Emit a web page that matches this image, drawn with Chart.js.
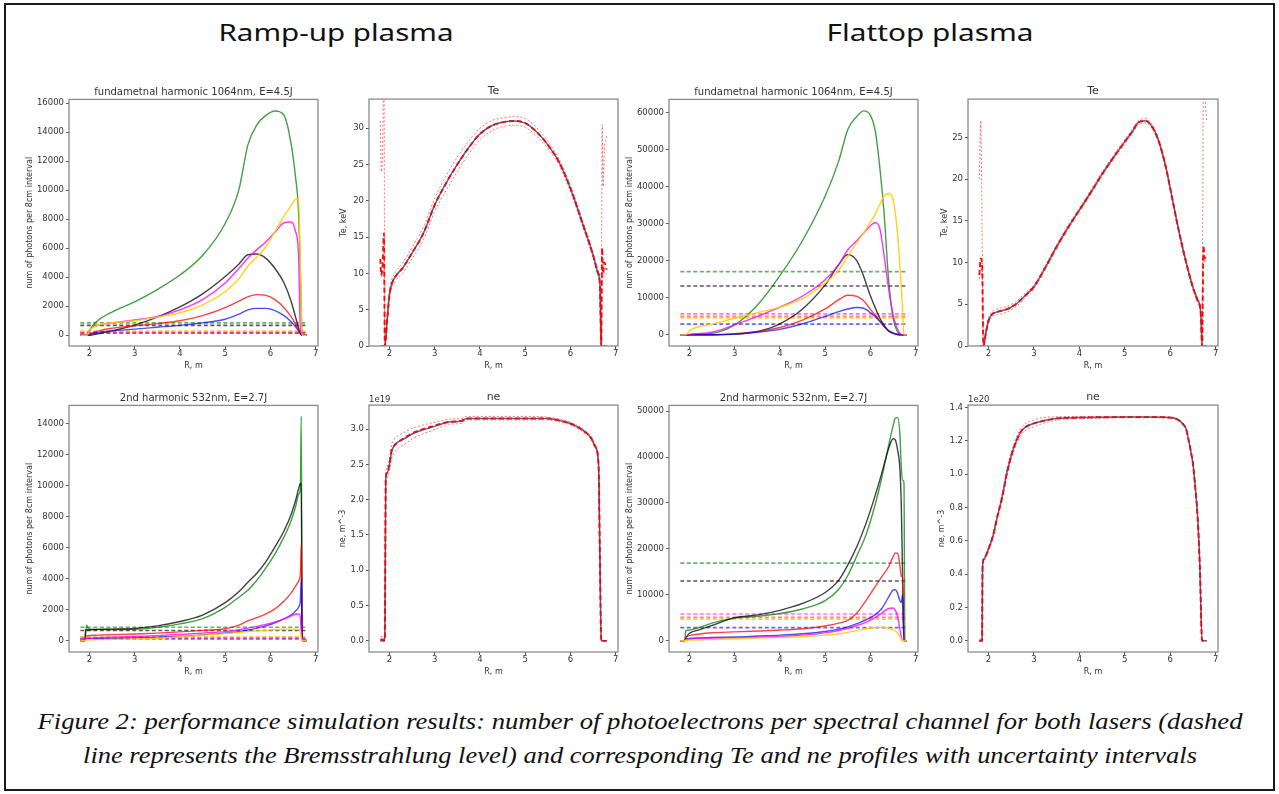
<!DOCTYPE html>
<html lang="en">
<head>
<meta charset="utf-8">
<title>Figure 2: performance simulation results</title>
<script src="https://cdn.jsdelivr.net/npm/chart.js@4.4.1/dist/chart.umd.min.js"></script>
<style>
    html, body { margin: 0; padding: 0; background: #fff; }
    #page { position: relative; width: 1279px; height: 794px; overflow: hidden; background: #fff; }
    #border { position: absolute; left: 4px; top: 3px; width: 1271px; height: 788px; border: 2px solid #1a1a1a; box-sizing: border-box; }
    .heading { position: absolute; top: 21px; font-family: "Noto Sans", "Open Sans", sans-serif; font-size: 23px; line-height: 23px; color: #111; white-space: nowrap; transform-origin: center; }
    .caption { position: absolute; font-family: "Liberation Serif", "Times New Roman", Times, serif; font-style: italic; font-size: 24px; line-height: 24px; color: #111; white-space: nowrap; transform-origin: center; }
    canvas { position: absolute; }
</style>
</head>
<body>
<div id="page">
    <div id="border"></div>
    <span class="heading" id="head-ramp">Ramp-up plasma</span>
    <span class="heading" id="head-flat">Flattop plasma</span>
    <span class="caption" id="cap-1" style="top: 709px;">Figure 2: performance simulation results: number of photoelectrons per spectral channel for both lasers (dashed</span>
    <span class="caption" id="cap-2" style="top: 743px;">line represents the Bremsstrahlung level) and corresponding Te and ne profiles with uncertainty intervals</span>
</div>
<script>
// ---- shared ticks ----
const rTicks = [2, 3, 4, 5, 6, 7];
const rampFundTicks = [0, 2000, 4000, 6000, 8000, 10000, 12000, 14000, 16000];
const rampSecTicks = [0, 2000, 4000, 6000, 8000, 10000, 12000, 14000];
const flatFundTicks = [0, 10000, 20000, 30000, 40000, 50000, 60000];
const flatSecTicks = [0, 10000, 20000, 30000, 40000, 50000];
const teRampTicks = [0, 5, 10, 15, 20, 25, 30];
const teFlatTicks = [0, 5, 10, 15, 20, 25];
const neRampTicks = [0, 0.5, 1.0, 1.5, 2.0, 2.5, 3.0];
const neFlatTicks = [0, 0.2, 0.4, 0.6, 0.8, 1.0, 1.2, 1.4];

// ---- ramp-up, fundamental harmonic 1064nm ----
const rampFundR       = [1.8, 1.95, 2.0, 2.05, 2.2, 2.5, 3.0, 3.5, 4.0, 4.5, 5.0, 5.3, 5.5, 5.7, 5.9, 6.1, 6.3, 6.45, 6.55, 6.62, 6.66, 6.7, 6.8];
const rampFundGreen   = [0, 0, 300, 580, 1050, 1600, 2300, 3150, 4150, 5500, 7700, 10000, 13100, 14500, 15150, 15450, 15150, 13300, 11000, 8500, 4500, 0, 0];
const rampFundGold    = [0, 0, 300, 480, 700, 850, 1000, 1250, 1550, 2100, 3000, 3900, 4750, 5400, 6100, 7150, 8200, 8900, 9350, 9400, 5000, 0, 0];
const rampFundMagenta = [0, 0, 300, 500, 700, 850, 1050, 1300, 1750, 2450, 3600, 4600, 5300, 5900, 6450, 7100, 7750, 7800, 7200, 5500, 500, 0, 0];
const rampFundBlack   = [0, 0, 0, 20, 100, 300, 700, 1250, 1950, 2850, 4050, 4900, 5550, 5600, 5300, 4600, 3600, 2400, 1300, 500, 150, 0, 0];
const rampFundRed     = [0, 0, 50, 150, 300, 480, 650, 800, 1000, 1350, 1900, 2350, 2650, 2800, 2750, 2450, 1900, 1300, 800, 400, 150, 0, 0];
const rampFundBlue    = [0, 0, 30, 100, 200, 300, 420, 550, 680, 850, 1100, 1450, 1750, 1850, 1850, 1700, 1350, 950, 600, 300, 100, 0, 0];
// bremsstrahlung levels: green, black, gold, red, magenta, blue
const rampFundBrem    = [850, 680, 280, 220, 180, 140];

// ---- ramp-up, 2nd harmonic 532nm ----
const rampSecR       = [1.8, 1.9, 1.92, 1.94, 1.97, 2.0, 2.2, 2.5, 3.0, 3.5, 4.0, 4.5, 5.0, 5.3, 5.5, 5.7, 5.9, 6.1, 6.3, 6.45, 6.55, 6.63, 6.66, 6.68, 6.7, 6.72, 6.8];
const rampSecGreen   = [0, 0, 600, 1000, 800, 740, 720, 710, 720, 850, 1080, 1420, 2150, 2800, 3250, 3900, 4700, 5600, 6700, 7700, 8600, 9500, 9800, 14500, 0, 0, 0];
const rampSecBlack   = [0, 0, 650, 700, 690, 700, 720, 740, 780, 950, 1230, 1650, 2450, 3150, 3770, 4350, 5100, 6050, 7100, 8100, 9000, 9900, 10150, 10150, 0, 0, 0];
const rampSecRed     = [0, 0, 250, 300, 320, 330, 350, 380, 420, 480, 560, 660, 760, 1000, 1270, 1480, 1720, 2050, 2550, 3050, 3500, 3900, 4300, 6200, 0, 0, 0];
const rampSecBlue    = [0, 0, 80, 100, 100, 110, 120, 140, 170, 220, 280, 370, 480, 580, 680, 800, 950, 1150, 1400, 1650, 1900, 2200, 2600, 4000, 0, 0, 0];
const rampSecMagenta = [0, 0, 100, 130, 150, 160, 180, 210, 260, 320, 400, 480, 580, 700, 800, 920, 1050, 1200, 1400, 1580, 1700, 1720, 1500, 400, 0, 0, 0];
const rampSecGold    = [0, 0, 30, 40, 50, 50, 60, 80, 110, 150, 250, 350, 450, 530, 580, 620, 660, 700, 730, 740, 730, 700, 600, 200, 0, 0, 0];
const rampSecBrem    = [860, 650, 230, 200, 150, 110];

// ---- flattop, fundamental harmonic 1064nm ----
const flatFundR       = [1.8, 1.9, 1.95, 2.0, 2.05, 2.5, 3.0, 3.5, 4.0, 4.5, 5.0, 5.3, 5.5, 5.7, 5.85, 6.0, 6.1, 6.2, 6.3, 6.4, 6.5, 6.6, 6.7, 6.74, 6.8];
const flatFundGreen   = [0, 0, 0, 50, 100, 400, 2700, 8000, 16000, 25500, 37500, 47000, 55500, 59000, 60500, 59300, 55500, 46000, 33000, 15000, 4500, 800, 0, 0, 0];
const flatFundGold    = [0, 0, 300, 1000, 1500, 2900, 4500, 6000, 7500, 9800, 14000, 17500, 21200, 25000, 27500, 30500, 32500, 35000, 37500, 38200, 36500, 27000, 9000, 0, 0];
const flatFundMagenta = [0, 0, 50, 150, 250, 700, 2700, 5000, 7500, 10500, 14900, 19000, 23000, 25500, 27500, 29500, 30300, 29000, 21500, 12500, 5500, 1500, 0, 0, 0];
const flatFundBlack   = [0, 0, 0, 0, 0, 30, 200, 900, 3000, 7000, 13500, 19000, 21700, 20000, 15800, 10500, 7500, 4700, 2600, 1100, 450, 100, 0, 0, 0];
const flatFundRed     = [0, 0, 0, 0, 0, 50, 300, 900, 2000, 4000, 7000, 9500, 10700, 10400, 9200, 6900, 5400, 3800, 2300, 1100, 500, 100, 0, 0, 0];
const flatFundBlue    = [0, 0, 0, 0, 0, 50, 200, 700, 1500, 3000, 5000, 6300, 7000, 7400, 7200, 6000, 5000, 3800, 2300, 1100, 500, 100, 0, 0, 0];
const flatFundBrem    = [17100, 13200, 4600, 5000, 5700, 2900];

// ---- flattop, 2nd harmonic 532nm ----
const flatSecR       = [1.8, 1.9, 1.92, 1.95, 2.0, 2.2, 2.5, 3.0, 3.5, 4.0, 4.5, 5.0, 5.3, 5.5, 5.7, 5.9, 6.1, 6.25, 6.4, 6.5, 6.55, 6.6, 6.65, 6.68, 6.71, 6.74, 6.76, 6.8];
const flatSecGreen   = [0, 0, 2200, 2250, 2300, 2800, 3800, 4900, 5300, 5900, 6900, 8700, 11200, 14200, 18500, 23000, 29500, 35500, 42500, 46800, 48500, 48600, 45000, 38000, 35000, 34500, 0, 0];
const flatSecBlack   = [0, 0, 400, 1000, 1600, 2300, 3300, 5000, 5600, 6600, 8100, 10500, 13200, 16500, 20500, 25500, 31500, 36500, 41800, 44000, 43700, 41500, 37500, 30000, 14000, 0, 0, 0];
const flatSecRed     = [0, 0, 600, 900, 1100, 1400, 1700, 1900, 2100, 2300, 2600, 3200, 3800, 4400, 6000, 8700, 11700, 13900, 16100, 18300, 19100, 19000, 16500, 14000, 14200, 0, 0, 0];
const flatSecBlue    = [0, 0, 300, 400, 500, 600, 700, 800, 1000, 1200, 1500, 2000, 2500, 3000, 3700, 4500, 5600, 7000, 9500, 11000, 11100, 10300, 8700, 8300, 10000, 0, 0, 0];
const flatSecMagenta = [0, 0, 200, 250, 300, 400, 500, 600, 750, 900, 1200, 1700, 2200, 2700, 3300, 4000, 5000, 6000, 7000, 7100, 6600, 5200, 2500, 800, 0, 0, 0, 0];
const flatSecGold    = [0, 0, 50, 80, 100, 150, 250, 400, 550, 700, 900, 1200, 1500, 1800, 2200, 2600, 2850, 2900, 2700, 2400, 2100, 1600, 900, 400, 0, 0, 0, 0];
const flatSecBrem    = [16900, 13000, 4700, 5070, 5800, 2830];

// ---- Te profiles, keV ----
const teRampR     = [1.8, 1.82, 1.85, 1.88, 1.9, 1.95, 2.0, 2.05, 2.15, 2.3, 2.5, 2.75, 3.0, 3.25, 3.5, 3.75, 4.0, 4.25, 4.5, 4.75, 5.0, 5.25, 5.5, 5.75, 6.0, 6.25, 6.5, 6.6, 6.65, 6.68, 6.7, 6.72, 6.75, 6.8];
const teRampTrue  = [0, 0, 0, 0, 0, 3.5, 7, 8.5, 9.7, 10.8, 12.8, 15.5, 19.4, 22.4, 25.0, 27.3, 29.2, 30.3, 30.8, 31.0, 30.7, 29.5, 27.7, 25.3, 21.7, 17.2, 12.5, 10.2, 8.5, 0, 0, 0, 0, 0];
const teRampFit   = [12, 9.8, 11, 15.5, 0, 3.5, 7, 8.5, 9.7, 10.8, 12.8, 15.5, 19.4, 22.4, 25.0, 27.3, 29.2, 30.3, 30.8, 31.0, 30.7, 29.5, 27.7, 25.3, 21.7, 17.2, 12.5, 10.2, 8.5, 0, 13.5, 10, 11.5, 10.5];
const teRampUpper = [31, 24, 27, 40, 0, 4.0, 7.6, 9.1, 10.3, 11.5, 13.6, 16.4, 20.3, 23.4, 26.0, 28.2, 30.0, 31.0, 31.4, 31.6, 31.3, 30.1, 28.2, 25.7, 22.1, 17.6, 12.9, 10.6, 9.0, 0, 30.5, 22, 27, 29];
const teRampLower = [10, 9.5, 10, 10.5, 0, 3.0, 6.4, 7.9, 9.1, 10.1, 12.0, 14.6, 18.5, 21.4, 24.0, 26.4, 28.4, 29.6, 30.2, 30.4, 30.1, 28.9, 27.2, 24.9, 21.3, 16.8, 12.1, 9.8, 8.0, 0, 9.5, 10, 9.5, 10];

const teFlatR     = [1.8, 1.83, 1.86, 1.89, 1.95, 2.0, 2.05, 2.1, 2.2, 2.4, 2.6, 2.8, 3.0, 3.25, 3.5, 3.75, 4.0, 4.25, 4.5, 4.75, 5.0, 5.15, 5.3, 5.45, 5.6, 5.75, 5.9, 6.05, 6.2, 6.35, 6.5, 6.6, 6.67, 6.7, 6.73, 6.76, 6.8];
const teFlatTrue  = [0, 0, 0, 0, 1.8, 3.0, 3.6, 3.9, 4.1, 4.4, 5.0, 6.0, 7.1, 9.4, 11.9, 14.2, 16.3, 18.4, 20.6, 22.6, 24.5, 25.6, 26.8, 27.0, 26.3, 24.5, 21.5, 17.5, 13.5, 10.0, 7.0, 5.5, 4.0, 0, 0, 0, 0];
const teFlatFit   = [8.5, 10.5, 9.8, 0, 1.8, 3.0, 3.6, 3.9, 4.1, 4.4, 5.0, 6.0, 7.1, 9.4, 11.9, 14.2, 16.3, 18.4, 20.6, 22.6, 24.5, 25.6, 26.8, 27.0, 26.3, 24.5, 21.5, 17.5, 13.5, 10.0, 7.0, 5.5, 4.0, 0, 12, 10.5, 11];
const teFlatUpper = [20, 27, 14, 0, 2.0, 3.3, 3.9, 4.2, 4.45, 4.75, 5.3, 6.3, 7.35, 9.65, 12.15, 14.45, 16.55, 18.65, 20.85, 22.85, 24.75, 25.85, 27.05, 27.25, 26.55, 24.75, 21.75, 17.75, 13.75, 10.25, 7.25, 5.75, 4.2, 0, 32, 30, 27];
const teFlatLower = [8, 10, 9, 0, 1.6, 2.7, 3.3, 3.6, 3.75, 4.05, 4.7, 5.7, 6.85, 9.15, 11.65, 13.95, 16.05, 18.15, 20.35, 22.35, 24.25, 25.35, 26.55, 26.75, 26.05, 24.25, 21.25, 17.25, 13.25, 9.75, 6.75, 5.25, 3.8, 0, 11, 10, 10.5];

// ---- ne profiles (ramp-up in 1e19, flattop in 1e20 m^-3) ----
const neRampR     = [1.8, 1.85, 1.88, 1.9, 1.92, 1.95, 2.0, 2.05, 2.1, 2.2, 2.35, 2.5, 2.7, 2.9, 3.1, 3.3, 3.6, 3.7, 4.0, 4.5, 5.0, 5.5, 5.7, 5.9, 6.1, 6.3, 6.45, 6.55, 6.62, 6.65, 6.68, 6.72, 6.8];
const neRampTrue  = [0, 0, 0, 0.05, 2.3, 2.38, 2.49, 2.68, 2.76, 2.82, 2.87, 2.93, 2.98, 3.02, 3.06, 3.1, 3.11, 3.15, 3.15, 3.15, 3.15, 3.15, 3.13, 3.1, 3.05, 2.97, 2.88, 2.75, 2.5, 1.2, 0, 0, 0];
const neRampFit   = [0.02, 0.02, 0, 0.05, 2.3, 2.38, 2.5, 2.7, 2.76, 2.82, 2.88, 2.94, 2.99, 3.03, 3.07, 3.1, 3.12, 3.15, 3.15, 3.15, 3.15, 3.15, 3.13, 3.1, 3.05, 2.97, 2.88, 2.75, 2.5, 1.2, 0, 0, 0];
const neRampUpper = [0.06, 0.06, 0.01, 0.08, 2.36, 2.46, 2.58, 2.78, 2.85, 2.91, 2.96, 3.01, 3.05, 3.08, 3.11, 3.14, 3.15, 3.18, 3.18, 3.18, 3.18, 3.17, 3.15, 3.12, 3.07, 2.99, 2.9, 2.77, 2.53, 1.25, 0, 0, 0];
const neRampLower = [0, 0.02, 0, 0.02, 2.22, 2.3, 2.4, 2.58, 2.66, 2.73, 2.79, 2.86, 2.92, 2.97, 3.02, 3.07, 3.08, 3.13, 3.13, 3.13, 3.13, 3.13, 3.11, 3.08, 3.03, 2.95, 2.86, 2.73, 2.47, 1.15, 0, 0, 0];

const neFlatR     = [1.8, 1.84, 1.86, 1.87, 1.9, 2.0, 2.1, 2.2, 2.3, 2.4, 2.5, 2.6, 2.7, 2.8, 3.0, 3.2, 3.5, 4.0, 4.5, 5.0, 5.5, 6.0, 6.15, 6.25, 6.3, 6.35, 6.4, 6.45, 6.5, 6.55, 6.6, 6.65, 6.7, 6.73, 6.8];
const neFlatTrue  = [0, 0, 0, 0.44, 0.49, 0.55, 0.63, 0.75, 0.86, 1.0, 1.11, 1.19, 1.25, 1.28, 1.305, 1.32, 1.335, 1.34, 1.342, 1.343, 1.343, 1.34, 1.33, 1.31, 1.295, 1.27, 1.21, 1.14, 1.06, 0.92, 0.75, 0.45, 0, 0, 0];
const neFlatUpper = [0.01, 0.01, 0, 0.45, 0.5, 0.56, 0.64, 0.76, 0.88, 1.02, 1.13, 1.21, 1.27, 1.3, 1.325, 1.34, 1.345, 1.347, 1.347, 1.347, 1.347, 1.344, 1.334, 1.314, 1.299, 1.274, 1.214, 1.144, 1.064, 0.924, 0.754, 0.455, 0, 0, 0];
const neFlatLower = [0, 0, 0, 0.43, 0.48, 0.54, 0.62, 0.74, 0.84, 0.98, 1.09, 1.17, 1.23, 1.26, 1.285, 1.305, 1.325, 1.333, 1.337, 1.339, 1.339, 1.336, 1.326, 1.306, 1.291, 1.266, 1.206, 1.136, 1.056, 0.916, 0.746, 0.445, 0, 0, 0];

const FONT = '"DejaVu Sans", sans-serif';
const X_H = 25;    // height of the x axis band (ticks + "R, m")
const PAD_R = 7;

const SOLID = {
    gold: 'rgba(255, 205, 0, 0.9)', magenta: 'rgba(255, 0, 255, 0.8)', blue: 'rgba(0, 0, 255, 0.7)',
    red: 'rgba(255, 0, 0, 0.75)', black: 'rgba(0, 0, 0, 0.75)', green: 'rgba(0, 128, 0, 0.75)'
};
// same order as the *Brem arrays
const BREM_COLORS = ['rgba(0, 128, 0, 0.6)', 'rgba(0, 0, 0, 0.65)', 'rgba(255, 185, 0, 0.75)',
                     'rgba(255, 40, 0, 0.55)', 'rgba(255, 0, 255, 0.55)', 'rgba(0, 0, 255, 0.6)'];

// box of the inner plot area on the page, plus y band width and title band height
const boxes = {
    rampFund: { L: 69,  T: 99,  R: 318,  B: 346, yW: 44, tH: 13.4 },
    teRamp:   { L: 369, T: 99,  R: 618,  B: 346, yW: 30, tH: 14.1 },
    flatFund: { L: 669, T: 99,  R: 918,  B: 346, yW: 44, tH: 13.4 },
    teFlat:   { L: 968, T: 99,  R: 1218, B: 346, yW: 28, tH: 14.1 },
    rampSec:  { L: 69,  T: 405, R: 318,  B: 652, yW: 44, tH: 13.4 },
    neRamp:   { L: 369, T: 405, R: 618,  B: 652, yW: 31, tH: 14.1 },
    flatSec:  { L: 669, T: 405, R: 918,  B: 652, yW: 44, tH: 13.4 },
    neFlat:   { L: 968, T: 405, R: 1218, B: 652, yW: 31, tH: 14.1 }
};

// draws the full axes box and the matplotlib style offset text ("1e19")
const axesFrame = {
    id: 'axesFrame',
    afterDraw(chart, args, opts) {
        const { ctx, chartArea: a } = chart;
        ctx.save();
        ctx.strokeStyle = '#8a8a8a';
        ctx.lineWidth = 1.3;
        ctx.strokeRect(a.left, a.top, a.right - a.left, a.bottom - a.top);
        if (opts.offsetText) {
            ctx.fillStyle = '#333';
            ctx.font = '8.5px ' + FONT;
            ctx.textAlign = 'left';
            ctx.textBaseline = 'bottom';
            ctx.fillText(opts.offsetText, a.left, a.top - 1);
        }
        ctx.restore();
    }
};

const pts = (xs, ys) => xs.map((x, i) => ({ x, y: ys[i] }));

function line(xs, ys, color, width, dash) {
    return {
        data: pts(xs, ys), borderColor: color, borderWidth: width, borderDash: dash || [],
        pointRadius: 0, fill: false, cubicInterpolationMode: 'monotone'
    };
}

function bremLines(xs, levels) {
    const x0 = xs[0], x1 = xs[xs.length - 1];
    return levels.map((lvl, i) => ({
        data: [{ x: x0, y: lvl }, { x: x1, y: lvl }],
        borderColor: BREM_COLORS[i], borderWidth: 1.7, borderDash: [4, 2.5], pointRadius: 0, fill: false
    }));
}

// first dataset ends up on top in Chart.js
function photonSets(xs, gold, magenta, blue, red, black, green, brem) {
    return [
        line(xs, gold, SOLID.gold, 1.4),
        line(xs, magenta, SOLID.magenta, 1.4),
        line(xs, blue, SOLID.blue, 1.4),
        line(xs, red, SOLID.red, 1.4),
        line(xs, black, SOLID.black, 1.4),
        line(xs, green, SOLID.green, 1.4),
        ...bremLines(xs, brem)
    ];
}

function profileSets(xs, fit, upper, lower, truth) {
    return [
        line(xs, fit, 'rgba(255, 0, 0, 0.95)', 1.9, [5, 3]),
        line(xs, upper, 'rgba(255, 0, 0, 0.55)', 1, [2, 2]),
        line(xs, lower, 'rgba(255, 0, 0, 0.55)', 1, [2, 2]),
        line(xs, truth, '#1f77b4', 1.5)
    ];
}

function axisFont(size) { return { family: FONT, size: size, weight: 'normal' }; }

function makeChart(box, spec) {
    const canvas = document.createElement('canvas');
    const w = box.R - box.L + box.yW + PAD_R;
    const h = box.B - box.T + box.tH + X_H;
    canvas.width = w;
    canvas.height = h;
    canvas.style.left = (box.L - box.yW) + 'px';
    canvas.style.top = (box.T - box.tH) + 'px';
    canvas.style.width = w + 'px';
    canvas.style.height = h + 'px';
    document.getElementById('page').appendChild(canvas);

    return new Chart(canvas, {
        type: 'line',
        data: { datasets: spec.datasets },
        options: {
            responsive: false,
            animation: false,
            events: [],
            layout: { padding: { top: 0, left: 0, bottom: 0, right: PAD_R } },
            plugins: {
                legend: { display: false },
                tooltip: { enabled: false },
                title: {
                    display: true, text: spec.title, fullSize: false, color: '#333',
                    font: axisFont(spec.titleSize),
                    padding: { top: 0, bottom: box.tH - spec.titleSize * 1.2 }
                },
                axesFrame: { offsetText: spec.offsetText || '' }
            },
            scales: {
                x: {
                    type: 'linear', min: 1.55, max: 7.05,
                    afterBuildTicks: s => { s.ticks = rTicks.map(v => ({ value: v })); },
                    afterFit: s => { s.height = X_H; },
                    ticks: { color: '#333', font: axisFont(8.5), padding: 0, maxRotation: 0, autoSkip: false, callback: v => String(v) },
                    grid: { drawOnChartArea: false, drawTicks: true, tickLength: 3, color: '#555' },
                    border: { display: false },
                    title: { display: true, text: 'R, m', color: '#333', font: axisFont(8), padding: 0 }
                },
                y: {
                    type: 'linear', min: spec.yMin, max: spec.yMax,
                    afterBuildTicks: s => { s.ticks = spec.yTicks.map(v => ({ value: v })); },
                    afterFit: s => { s.width = box.yW; },
                    ticks: { color: '#333', font: axisFont(8.5), padding: 2, autoSkip: false, callback: spec.fmt || (v => String(v)) },
                    grid: { drawOnChartArea: false, drawTicks: true, tickLength: 3, color: '#555' },
                    border: { display: false },
                    title: { display: true, text: spec.yTitle, color: '#333', font: axisFont(8), padding: 0 }
                }
            }
        },
        plugins: [axesFrame]
    });
}

const PHOTON_LABEL = 'num of photons per 8cm interval';
const oneDecimal = v => v.toFixed(1);

makeChart(boxes.rampFund, {
    title: 'fundametnal harmonic 1064nm, E=4.5J', titleSize: 10, yTitle: PHOTON_LABEL,
    yMin: -740, yMax: 16250, yTicks: rampFundTicks,
    datasets: photonSets(rampFundR, rampFundGold, rampFundMagenta, rampFundBlue, rampFundRed, rampFundBlack, rampFundGreen, rampFundBrem)
});
makeChart(boxes.teRamp, {
    title: 'Te', titleSize: 11, yTitle: 'Te, keV', yMin: 0, yMax: 34, yTicks: teRampTicks,
    datasets: profileSets(teRampR, teRampFit, teRampUpper, teRampLower, teRampTrue)
});
makeChart(boxes.flatFund, {
    title: 'fundametnal harmonic 1064nm, E=4.5J', titleSize: 10, yTitle: PHOTON_LABEL,
    yMin: -3000, yMax: 63600, yTicks: flatFundTicks,
    datasets: photonSets(flatFundR, flatFundGold, flatFundMagenta, flatFundBlue, flatFundRed, flatFundBlack, flatFundGreen, flatFundBrem)
});
makeChart(boxes.teFlat, {
    title: 'Te', titleSize: 11, yTitle: 'Te, keV', yMin: 0, yMax: 29.6, yTicks: teFlatTicks,
    datasets: profileSets(teFlatR, teFlatFit, teFlatUpper, teFlatLower, teFlatTrue)
});
makeChart(boxes.rampSec, {
    title: '2nd harmonic 532nm, E=2.7J', titleSize: 10, yTitle: PHOTON_LABEL,
    yMin: -740, yMax: 15200, yTicks: rampSecTicks,
    datasets: photonSets(rampSecR, rampSecGold, rampSecMagenta, rampSecBlue, rampSecRed, rampSecBlack, rampSecGreen, rampSecBrem)
});
makeChart(boxes.neRamp, {
    title: 'ne', titleSize: 11, yTitle: 'ne, m^-3', yMin: -0.158, yMax: 3.34, yTicks: neRampTicks,
    fmt: oneDecimal, offsetText: '1e19',
    datasets: profileSets(neRampR, neRampFit, neRampUpper, neRampLower, neRampTrue)
});
makeChart(boxes.flatSec, {
    title: '2nd harmonic 532nm, E=2.7J', titleSize: 10, yTitle: PHOTON_LABEL,
    yMin: -2480, yMax: 51270, yTicks: flatSecTicks,
    datasets: photonSets(flatSecR, flatSecGold, flatSecMagenta, flatSecBlue, flatSecRed, flatSecBlack, flatSecGreen, flatSecBrem)
});
makeChart(boxes.neFlat, {
    title: 'ne', titleSize: 11, yTitle: 'ne, m^-3', yMin: -0.068, yMax: 1.415, yTicks: neFlatTicks,
    fmt: oneDecimal, offsetText: '1e20',
    datasets: profileSets(neFlatR, neFlatTrue, neFlatUpper, neFlatLower, neFlatTrue)
});

// stretch headline / caption text to the widths they have in the figure
// (offsetWidth ignores the transform, so this can safely run twice)
function fitText(id, centerX, width) {
    const el = document.getElementById(id);
    const natural = el.offsetWidth;
    el.style.left = centerX + 'px';
    el.style.transform = `translateX(-50%) scaleX(${(width / natural).toFixed(3)})`;
}
function fitAll() {
    fitText('head-ramp', 335.5, 235);
    fitText('head-flat', 929.5, 207);
    fitText('cap-1', 640, 1205);
    fitText('cap-2', 640, 1114);
}
fitAll();
if (document.fonts && document.fonts.ready) document.fonts.ready.then(fitAll);
</script>
</body>
</html>
